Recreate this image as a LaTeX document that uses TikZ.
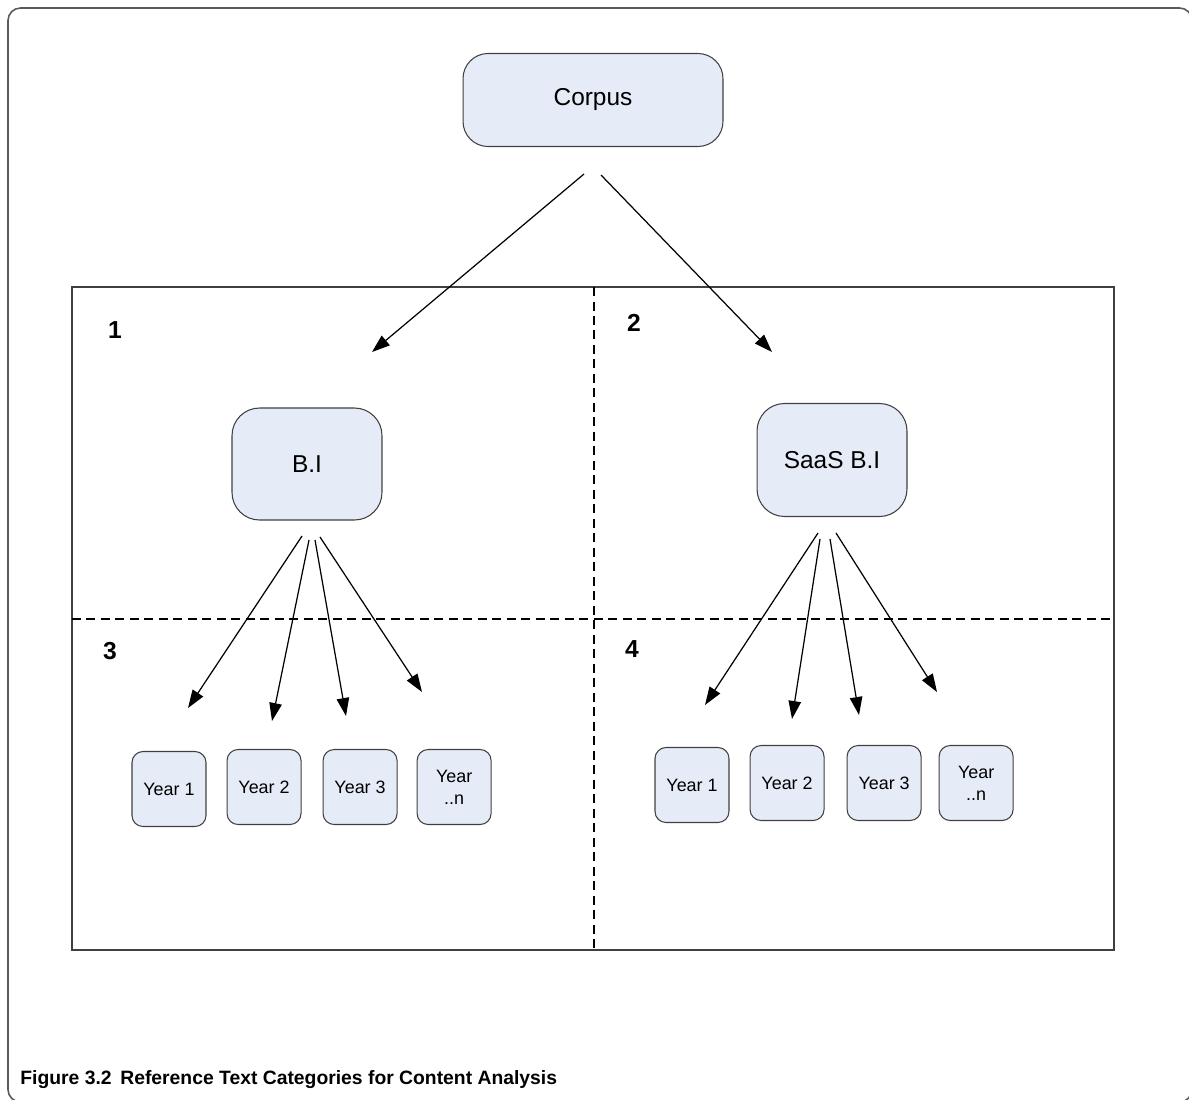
\documentclass[tikz,border=0pt]{standalone}
\usepackage{fontspec}
\setmainfont{Liberation Sans}
\usepackage{tikz}
\usetikzlibrary{shapes,arrows,arrows.meta,positioning}
\usepackage{xcolor}
\definecolor{boxfill}{RGB}{230,236,247}
\definecolor{boxline}{RGB}{64,64,64}
\definecolor{frameline}{RGB}{90,90,90}

\tikzset{
  bigbox/.style={draw=boxline, fill=boxfill, line width=0.6pt, inner sep=0pt, align=center},
  yearbox/.style={bigbox, rounded corners=0.22cm, minimum width=1.48cm, minimum height=1.5cm, font=\fontsize{10.2}{12.5}\selectfont},
  quadnum/.style={font=\fontsize{14}{16}\selectfont\bfseries},
  arr/.style={-{Triangle[length=0.36cm,width=0.25cm]}, line width=0.7pt},
  split/.style={line width=0.7pt, dash pattern=on 0.18cm off 0.11cm}
}

\begin{document}
\begin{tikzpicture}[x=0.02cm, y=-0.02cm]
    \useasboundingbox (0,0) rectangle (1189,1099);
    \draw[frameline, line width=0.9pt, rounded corners=0.25cm] (8,8) rectangle (1192,1102);

    \draw[boxline, line width=1pt] (72,287) rectangle (1114,950);
    \draw[split] (594,287) -- (594,950);
    \draw[split] (72,619) -- (1114,619);

    \node (q1) [quadnum] at (115,330) {1};
    \node (q2) [quadnum] at (634,323) {2};
    \node (q3) [quadnum] at (110,651) {3};
    \node (q4) [quadnum] at (632,649) {4};

    \node (corpus) [bigbox, rounded corners=0.5cm, minimum width=5.2cm, minimum height=1.86cm, font=\fontsize{13.9}{16}\selectfont] at (593,100) {Corpus};
    \node (bi) [bigbox, rounded corners=0.55cm, minimum width=3cm, minimum height=2.24cm, font=\fontsize{13.9}{16}\selectfont] at (307,464) {B.I};
    \node (saasbi) [bigbox, rounded corners=0.55cm, minimum width=3cm, minimum height=2.26cm, font=\fontsize{13.9}{16}\selectfont] at (832,460) {SaaS B.I};

    \node (biy1) [yearbox] at (169,789) {Year 1};
    \node (biy2) [yearbox, right=0.4cm of biy1, yshift=0.04cm] {Year 2};
    \node (biy3) [yearbox, right=0.42cm of biy2] {Year 3};
    \node (biyn) [yearbox, right=0.38cm of biy3] {Year\\..n};

    \node (sy1) [yearbox] at (692,785) {Year 1};
    \node (sy2) [yearbox, right=0.4cm of sy1, yshift=0.04cm] {Year 2};
    \node (sy3) [yearbox, right=0.44cm of sy2] {Year 3};
    \node (syn) [yearbox, right=0.34cm of sy3] {Year\\..n};

    \coordinate (c1s) at (584,174);
    \coordinate (c1e) at (372,352);
    \coordinate (c2s) at (601,175);
    \coordinate (c2e) at (772,352);
    \draw[arr] (c1s) -- (c1e);
    \draw[arr] (c2s) -- (c2e);

    \coordinate (b1s) at (302,536);
    \coordinate (b2s) at (309,540);
    \coordinate (b3s) at (315,540);
    \coordinate (b4s) at (320,537);
    \coordinate (b1e) at (188,708);
    \coordinate (b2e) at (272,721);
    \coordinate (b3e) at (346,716);
    \coordinate (b4e) at (422,692);
    \draw[arr] (b1s) -- (b1e);
    \draw[arr] (b2s) -- (b2e);
    \draw[arr] (b3s) -- (b3e);
    \draw[arr] (b4s) -- (b4e);

    \coordinate (s1s) at (818,533);
    \coordinate (s2s) at (820,539);
    \coordinate (s3s) at (830,539);
    \coordinate (s4s) at (836,533);
    \coordinate (s1e) at (705,705);
    \coordinate (s2e) at (792,719);
    \coordinate (s3e) at (859,715);
    \coordinate (s4e) at (937,692);
    \draw[arr] (s1s) -- (s1e);
    \draw[arr] (s2s) -- (s2e);
    \draw[arr] (s3s) -- (s3e);
    \draw[arr] (s4s) -- (s4e);

    \node (caption) [anchor=base west, font=\fontsize{11}{13}\selectfont\bfseries, inner sep=0pt] at (20,1084) {Figure 3.2\hspace{0.45em}Reference Text Categories for Content Analysis};
\end{tikzpicture}
\end{document}
